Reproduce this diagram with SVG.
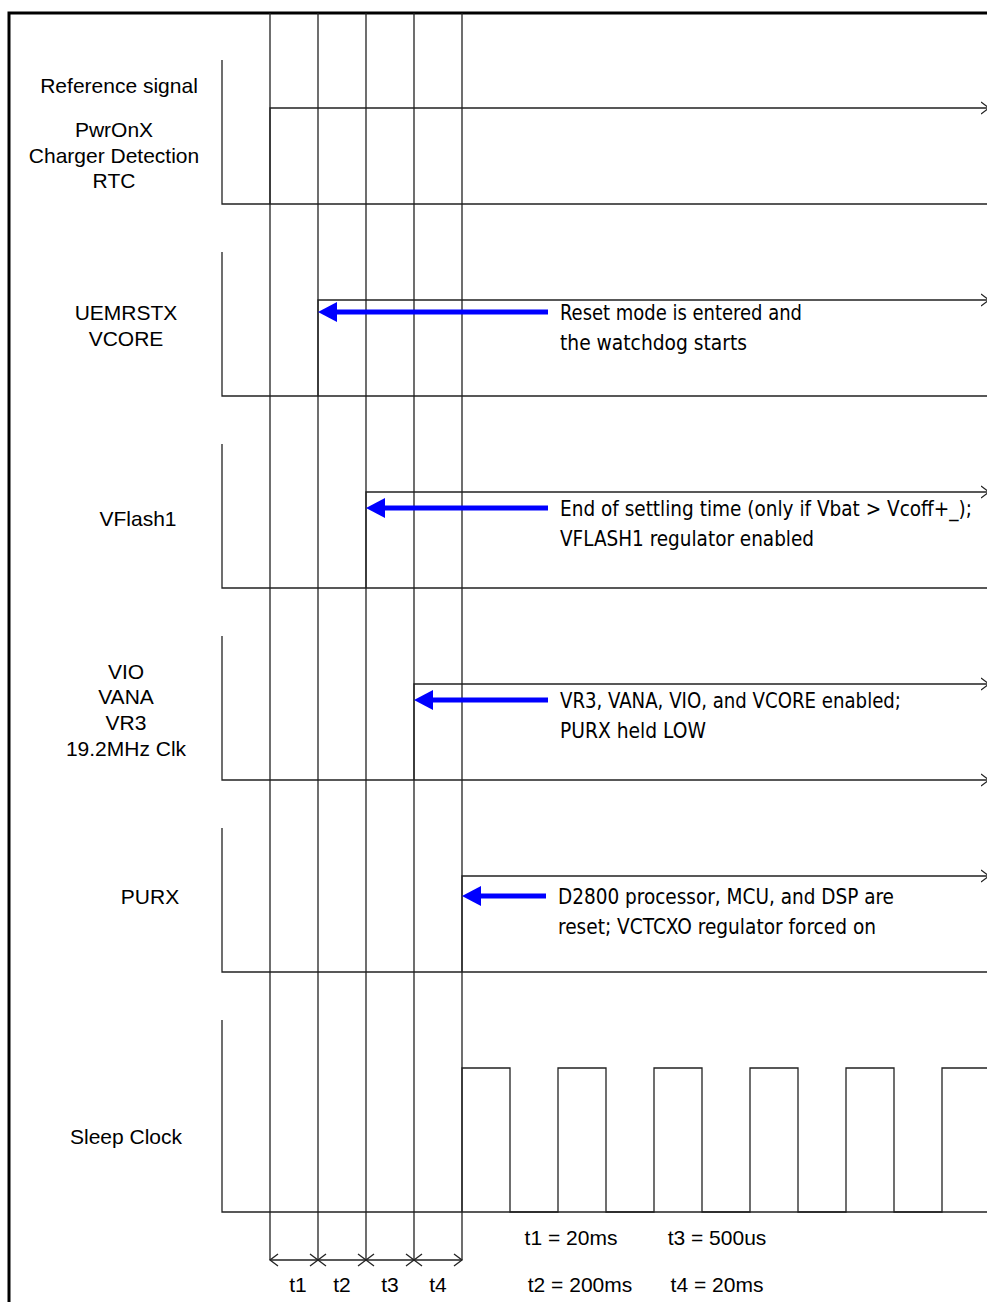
<svg xmlns="http://www.w3.org/2000/svg" width="987" height="1302" viewBox="0 0 987 1302">
<style>
.ln{stroke:#222;stroke-width:1.3;fill:none}
.bd{stroke:#000;stroke-width:3;fill:none}
.lbl{font-family:"Liberation Sans",Arial,sans-serif;font-size:21px;fill:#000;text-anchor:middle}
.ann{font-family:"DejaVu Sans Condensed","DejaVu Sans",sans-serif;font-size:21px;fill:#000}
.blue{stroke:#0000ff;stroke-width:5;fill:none}
.bh{fill:#0000ff}
</style>
<defs>
<marker id="open" markerWidth="10" markerHeight="14" refX="8" refY="7" orient="auto" markerUnits="userSpaceOnUse">
<path d="M0,1 L8,7 L0,13" fill="none" stroke="#222" stroke-width="1.2"/>
</marker>
</defs>
<rect width="987" height="1302" fill="#fff"/>
<g id="border">
<path class="bd" d="M9,1302 V13 H987"/>
</g>
<g id="grid">
<path class="ln" d="M270,13 V1260 M318,13 V1260 M366,13 V1260 M414,13 V1260 M462,13 V1260"/>
</g>
<g id="panel-ref">
<path class="ln" d="M222,60 V204 H987"/>
<path class="ln" d="M270,204 V108 H989" marker-end="url(#open)"/>
<text class="lbl" x="119" y="93">Reference signal</text>
<text class="lbl" x="114" y="137">PwrOnX</text>
<text class="lbl" x="114" y="163">Charger Detection</text>
<text class="lbl" x="114" y="188">RTC</text>
</g>
<g id="panel-uemrstx">
<path class="ln" d="M222,252 V396 H987"/>
<path class="ln" d="M318,396 V300 H989" marker-end="url(#open)"/>
<text class="lbl" x="126" y="320">UEMRSTX</text>
<text class="lbl" x="126" y="346">VCORE</text>
</g>
<g id="panel-vflash1">
<path class="ln" d="M222,444 V588 H987"/>
<path class="ln" d="M366,588 V492 H989" marker-end="url(#open)"/>
<text class="lbl" x="138" y="526">VFlash1</text>
</g>
<g id="panel-vio">
<path class="ln" d="M222,636 V780 H989" marker-end="url(#open)"/>
<path class="ln" d="M414,780 V684 H989" marker-end="url(#open)"/>
<text class="lbl" x="126" y="679">VIO</text>
<text class="lbl" x="126" y="704">VANA</text>
<text class="lbl" x="126" y="730">VR3</text>
<text class="lbl" x="126" y="756">19.2MHz Clk</text>
</g>
<g id="panel-purx">
<path class="ln" d="M222,828 V972 H987"/>
<path class="ln" d="M462,972 V876 H989" marker-end="url(#open)"/>
<text class="lbl" x="150" y="904">PURX</text>
</g>
<g id="panel-sleep">
<path class="ln" d="M222,1020 V1212 H987"/>
<path class="ln" d="M462,1212 V1068 H510 V1212 H558 V1068 H606 V1212 H654 V1068 H702 V1212 H750 V1068 H798 V1212 H846 V1068 H894 V1212 H942 V1068 H987"/>
<text class="lbl" x="126" y="1144">Sleep Clock</text>
</g>
<g id="connectors">
<path class="blue" d="M548,312 H334"/>
<path class="bh" d="M318,312 L337,302 L337,322 Z"/>
<path class="blue" d="M548,508 H382"/>
<path class="bh" d="M366,508 L385,498 L385,518 Z"/>
<path class="blue" d="M548,700 H430"/>
<path class="bh" d="M414,700 L433,690 L433,710 Z"/>
<path class="blue" d="M546,896 H478"/>
<path class="bh" d="M462,896 L481,886 L481,906 Z"/>
</g>
<g id="annotations">
<text class="ann" x="560" y="320" textLength="242" lengthAdjust="spacingAndGlyphs">Reset mode is entered and</text>
<text class="ann" x="560" y="350" textLength="187" lengthAdjust="spacingAndGlyphs">the watchdog starts</text>
<text class="ann" x="560" y="516" textLength="412" lengthAdjust="spacingAndGlyphs">End of settling time (only if Vbat &gt; Vcoff+_);</text>
<text class="ann" x="560" y="546" textLength="254" lengthAdjust="spacingAndGlyphs">VFLASH1 regulator enabled</text>
<text class="ann" x="560" y="708" textLength="341" lengthAdjust="spacingAndGlyphs">VR3, VANA, VIO, and VCORE enabled;</text>
<text class="ann" x="560" y="738" textLength="146" lengthAdjust="spacingAndGlyphs">PURX held LOW</text>
<text class="ann" x="558" y="904" textLength="336" lengthAdjust="spacingAndGlyphs">D2800 processor, MCU, and DSP are</text>
<text class="ann" x="558" y="934" textLength="318" lengthAdjust="spacingAndGlyphs">reset; VCTCXO regulator forced on</text>
</g>
<g id="timing">
<path class="ln" d="M270,1260 H462"/>
<path class="ln" d="M278,1254 L270,1260 L278,1266"/>
<path class="ln" d="M310,1254 L326,1266 M310,1266 L326,1254"/>
<path class="ln" d="M358,1254 L374,1266 M358,1266 L374,1254"/>
<path class="ln" d="M406,1254 L422,1266 M406,1266 L422,1254"/>
<path class="ln" d="M454,1254 L462,1260 L454,1266"/>
<text class="lbl" x="298" y="1292">t1</text>
<text class="lbl" x="342" y="1292">t2</text>
<text class="lbl" x="390" y="1292">t3</text>
<text class="lbl" x="438" y="1292">t4</text>
<text class="lbl" x="571" y="1245">t1 = 20ms</text>
<text class="lbl" x="717" y="1245">t3 = 500us</text>
<text class="lbl" x="580" y="1292">t2 = 200ms</text>
<text class="lbl" x="717" y="1292">t4 = 20ms</text>
</g>
</svg>
